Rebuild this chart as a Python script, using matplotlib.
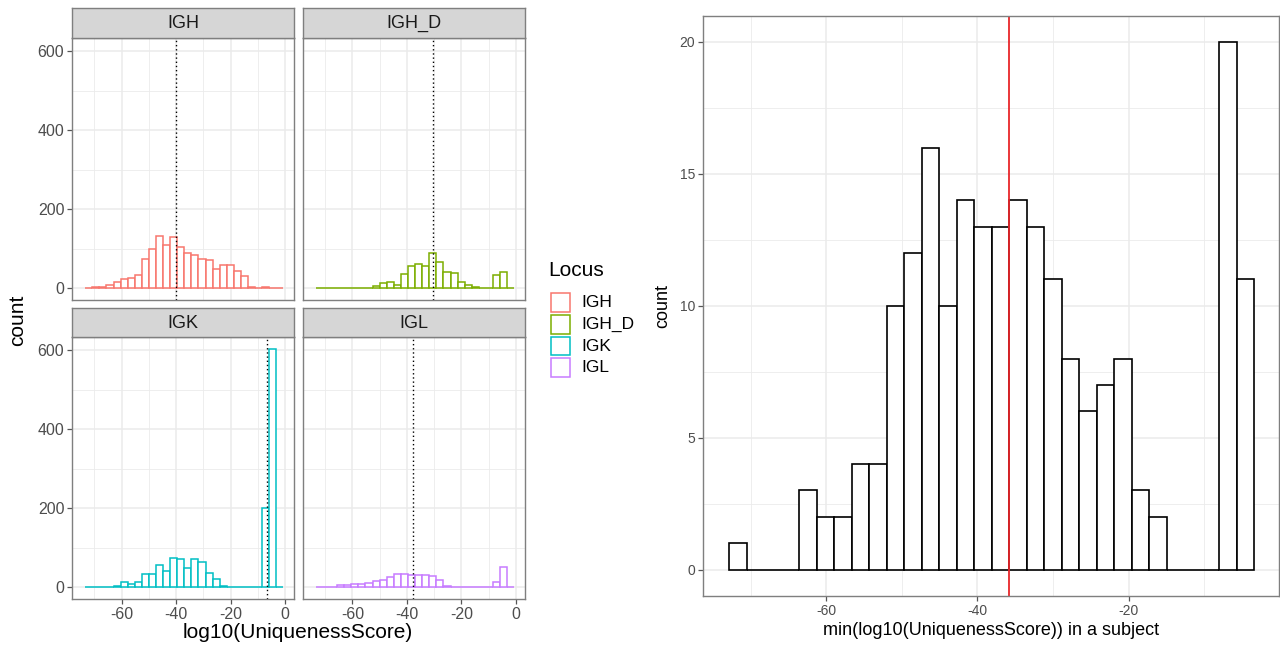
import numpy as np
import matplotlib
matplotlib.use("Agg")
import matplotlib.pyplot as plt
from matplotlib.patches import Rectangle

plt.rcParams['font.family'] = ['Liberation Sans', 'DejaVu Sans']
plt.rcParams['axes.unicode_minus'] = False

# ---------------- data ----------------
loci = ["IGH", "IGH_D", "IGK", "IGL"]
locus_colors = ["#F8766D", "#7CAE00", "#00BFC4", "#C77CFF"]

# shared bins for faceted histograms (28 bins)
facet_bin_lo = -73.4
facet_bin_hi = -0.6
igh_counts = [1, 2, 4, 8, 15, 23, 26, 34, 73, 99, 131, 110, 129, 103, 88, 83, 74, 72,
              48, 58, 58, 44, 30, 2, 1, 3, 1, 0]
igh_d_counts = [0, 0, 0, 0, 0, 0, 0, 1, 5, 12, 16, 8, 35, 55, 62, 56, 90, 66,
                40, 38, 15, 7, 3, 1, 1, 32, 42, 0]
igk_counts = [0, 0, 0, 0, 3, 12, 8, 12, 32, 32, 57, 41, 74, 72, 48, 71, 64, 36,
              20, 4, 0, 0, 0, 0, 0, 200, 603, 0]
igl_counts = [0, 0, 1, 6, 6, 7, 8, 10, 16, 18, 26, 32, 34, 31, 31, 30, 28, 19,
              3, 1, 0, 0, 0, 0, 0, 14, 52, 0]
locus_medians = [-39.9, -30.4, -6.7, -37.7]

# per-subject minimum histogram (30 bins)
subj_bin_lo = -72.8
subj_bin_hi = -3.4
subj_counts = [1, 0, 0, 0, 3, 2, 2, 4, 4, 10, 12, 16, 10, 14, 13, 13, 14, 13, 11, 8,
               6, 7, 8, 3, 2, 0, 0, 0, 20, 11]
subj_cutoff = -35.8

facet_counts = [igh_counts, igh_d_counts, igk_counts, igl_counts]

# ---------------- style ----------------
W, H = 1280, 652
fig = plt.figure(figsize=(W / 100, H / 100), dpi=100)

GRID = "#EBEBEB"
BORDER = "#7F7F7F"
TICKC = "#4D4D4D"


def fax(x0, y0, x1, y1):
    return fig.add_axes([x0 / W, 1 - y1 / H, (x1 - x0) / W, (y1 - y0) / H])


def style_axes(ax, xmaj, xmin, ymaj, ymin, fs):
    ax.set_facecolor("white")
    for s in ax.spines.values():
        s.set_color(BORDER)
        s.set_linewidth(1.0)
        s.set_zorder(5)
    ax.set_xticks(xmaj)
    ax.set_xticks(xmin, minor=True)
    ax.set_yticks(ymaj)
    ax.set_yticks(ymin, minor=True)
    ax.grid(True, which="major", color=GRID, linewidth=1.1, zorder=0)
    ax.grid(True, which="minor", color=GRID, linewidth=0.6, zorder=0)
    ax.set_axisbelow(True)
    ax.tick_params(which="major", length=3.5, width=0.9, color="#555555",
                   labelcolor=TICKC, labelsize=fs, pad=2)
    ax.tick_params(which="minor", length=0)


# ---------------- faceted histograms ----------------
edges = np.linspace(facet_bin_lo, facet_bin_hi, len(igh_counts) + 1)
centers = (edges[:-1] + edges[1:]) / 2
bw = edges[1] - edges[0]
ymax_all = max(max(c) for c in facet_counts)

panel_x = [(72, 294), (302.5, 525)]
panel_y = [(38, 300), (337, 599)]
strip_y = [(8, 38), (308, 337)]

for i, loc in enumerate(loci):
    r, c = divmod(i, 2)
    x0, x1 = panel_x[c]
    y0, y1 = panel_y[r]
    ax = fax(x0, y0, x1, y1)
    style_axes(ax, [-60, -40, -20, 0], [-70, -50, -30, -10],
               [0, 200, 400, 600], [100, 300, 500], 11.5)
    ax.bar(centers, facet_counts[i], width=bw, facecolor="white",
           edgecolor=locus_colors[i], linewidth=1.1, zorder=2)
    ax.axvline(locus_medians[i], color="black", linestyle=(0, (1, 2.0)),
               linewidth=1.0, zorder=3)
    ax.set_xlim(-78.26, 3.3)
    ax.set_ylim(-0.05 * ymax_all, 1.05 * ymax_all)
    if c == 1:
        ax.tick_params(axis="y", which="both", left=False, labelleft=False)
    if r == 0:
        ax.tick_params(axis="x", which="both", bottom=False, labelbottom=False)
    # strip
    sy0, sy1 = strip_y[r]
    sax = fax(x0, sy0, x1, sy1)
    sax.set_facecolor("#D6D6D6")
    sax.set_xticks([])
    sax.set_yticks([])
    for s in sax.spines.values():
        s.set_color(BORDER)
        s.set_linewidth(1.0)
    sax.text(0.5, 0.48, loc, ha="center", va="center", fontsize=13,
             color="#1A1A1A", transform=sax.transAxes)

fig.text(18 / W, 1 - 320 / H, "count", rotation=90, ha="center", va="center",
         fontsize=15, color="black")
fig.text(298 / W, 1 - 633 / H, "log10(UniquenessScore)", ha="center",
         va="center", fontsize=15, color="black")

# legend
fig.text(548 / W, 1 - 270 / H, "Locus", ha="left", va="center", fontsize=15,
         color="black")
key_top = 291.5
key_h = 21.8
for j, loc in enumerate(loci):
    ky0 = key_top + j * key_h
    fig.patches.append(Rectangle((550.5 / W, 1 - (ky0 + key_h - 1.5) / H),
                                 19 / W, (key_h - 3) / H,
                                 transform=fig.transFigure, facecolor="white",
                                 edgecolor=locus_colors[j], linewidth=1.1))
    fig.text(581 / W, 1 - (ky0 + key_h / 2) / H, loc, ha="left", va="center",
             fontsize=12.5, color="black")

# ---------------- per-subject histogram ----------------
sedges = np.linspace(subj_bin_lo, subj_bin_hi, len(subj_counts) + 1)
scenters = (sedges[:-1] + sedges[1:]) / 2
sbw = sedges[1] - sedges[0]

ax2 = fax(703, 15.6, 1279, 596)
style_axes(ax2, [-60, -40, -20], [-70, -50, -30, -10],
           [0, 5, 10, 15, 20], [2.5, 7.5, 12.5, 17.5], 10)
ax2.bar(scenters, subj_counts, width=sbw, facecolor="white",
        edgecolor="black", linewidth=1.2, zorder=2)
ax2.axvline(subj_cutoff, color="#E8262A", linewidth=1.3, zorder=3)
ax2.set_xlim(-76.3, -0.12)
ax2.set_ylim(-1, 21)
ax2.set_xlabel("min(log10(UniquenessScore)) in a subject", fontsize=13,
               labelpad=3)
ax2.set_ylabel("count", fontsize=13, labelpad=6)

fig.savefig("out.png", dpi=100, facecolor="white")
